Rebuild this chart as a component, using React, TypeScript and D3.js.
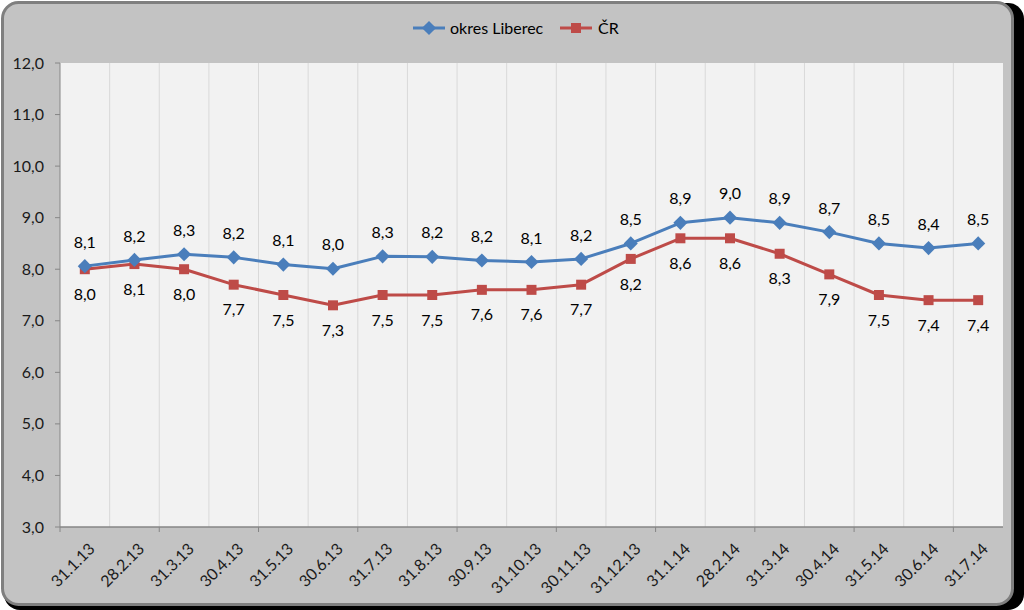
import React from 'react';
import { scaleLinear, scaleBand, line, symbol, symbolSquare, format } from 'd3';

const dates = ['31.1.13', '28.2.13', '31.3.13', '30.4.13', '31.5.13', '30.6.13', '31.7.13', '31.8.13', '30.9.13', '31.10.13',
    '30.11.13', '31.12.13', '31.1.14', '28.2.14', '31.3.14', '30.4.14', '31.5.14', '30.6.14', '31.7.14'];
const liberec = [8.06, 8.18, 8.29, 8.23, 8.09, 8.01, 8.25, 8.24, 8.17, 8.14, 8.2, 8.5, 8.9, 9.0, 8.9, 8.72, 8.5, 8.41, 8.5];
const cr = [8.0, 8.1, 8.0, 7.7, 7.5, 7.3, 7.5, 7.5, 7.6, 7.6, 7.7, 8.2, 8.6, 8.6, 8.3, 7.9, 7.5, 7.4, 7.4];
const yTicks = [3, 4, 5, 6, 7, 8, 9, 10, 11, 12];

const BLUE = '#4A7EBB';
const RED = '#BE4B48';
const FONT = 'Lato, "Open Sans", sans-serif';

const fmt = (v: number) => format('.1f')(v).replace('.', ',');

export default function App() {
    const width = 1024, height = 610;
    const plot = { left: 60, right: 1003, top: 63, bottom: 527 };

    const x = scaleBand().domain(dates).range([plot.left, plot.right]);
    const y = scaleLinear().domain([3, 12]).range([plot.bottom, plot.top]);
    const cx = (d: string) => (x(d) || 0) + x.bandwidth() / 2;

    const path = line<number>().x((d, i) => cx(dates[i])).y((d) => y(d));
    // diamond = square turned by 45deg
    const diamond = symbol().type(symbolSquare).size(100)();
    const square = symbol().type(symbolSquare).size(100)();

    return (
        <svg width={width} height={height} style={{ position: 'absolute', left: 0, top: 0, background: '#fff' }} fontFamily={FONT}>
            {/* frame + shadow */}
            <rect x={4} y={3} width={1020} height={607} rx={16} fill='#000' />
            <rect x={2.5} y={2.5} width={1010} height={602} rx={16} fill='#C3C3C3' stroke='#7F7F7F' strokeWidth={3} />

            {/* legend */}
            <g transform='translate(413,28)'>
                <line x1={0} x2={32} stroke={BLUE} strokeWidth={3} />
                <path d={diamond} transform='translate(16,0) rotate(45)' fill={BLUE} />
                <text x={37} dy='0.35em' fontSize={16} fill='#000'>okres Liberec</text>
                <line x1={147} x2={179} stroke={RED} strokeWidth={3} />
                <path d={square} transform='translate(163,0)' fill={RED} />
                <text x={185} dy='0.35em' fontSize={16} fill='#000'>ČR</text>
            </g>

            {/* plot area */}
            <rect x={plot.left} y={plot.top} width={plot.right - plot.left} height={plot.bottom - plot.top} fill='#F2F2F2' />
            {dates.slice(1).map((d) => (
                <line key={'g' + d} x1={x(d)} x2={x(d)} y1={plot.top} y2={plot.bottom} stroke='#D9D9D9' />
            ))}

            {/* y axis */}
            <line x1={plot.left} x2={plot.left} y1={plot.top} y2={plot.bottom} stroke='#868686' />
            {yTicks.map((t) => (
                <g key={'y' + t}>
                    <line x1={plot.left - 5} x2={plot.left} y1={y(t)} y2={y(t)} stroke='#868686' />
                    <text x={44} y={y(t)} dy='0.35em' textAnchor='end' fontSize={16} fill='#1a1a1a'>{fmt(t)}</text>
                </g>
            ))}

            {/* x axis */}
            <line x1={plot.left} x2={plot.right} y1={plot.bottom} y2={plot.bottom} stroke='#868686' strokeWidth={1.5} />
            {dates.map((d, i) => (i % 2 === 0 ? (
                <line key={'xt' + d} x1={i === 0 ? plot.left : x(d)} x2={i === 0 ? plot.left : x(d)}
                    y1={plot.bottom} y2={plot.bottom + 5} stroke='#868686' />
            ) : null))}
            {dates.map((d) => (
                <text key={'xl' + d} transform={`translate(${cx(d) + 7},${plot.bottom + 19}) rotate(-45)`}
                    textAnchor='end' dy='0.35em' fontSize={16} fill='#1a1a1a'>{d}</text>
            ))}

            {/* series */}
            <path d={path(cr) || ''} fill='none' stroke={RED} strokeWidth={3} strokeLinejoin='round' />
            <path d={path(liberec) || ''} fill='none' stroke={BLUE} strokeWidth={3} strokeLinejoin='round' />
            {cr.map((v, i) => (
                <path key={'cm' + i} d={square} transform={`translate(${cx(dates[i])},${y(v)})`} fill={RED} />
            ))}
            {liberec.map((v, i) => (
                <path key={'lm' + i} d={diamond} transform={`translate(${cx(dates[i])},${y(v)}) rotate(45)`} fill={BLUE} />
            ))}

            {/* data labels */}
            {liberec.map((v, i) => (
                <text key={'ll' + i} x={cx(dates[i])} y={y(v) - 24} dy='0.35em' textAnchor='middle' fontSize={16} fill='#000'>{fmt(v)}</text>
            ))}
            {cr.map((v, i) => (
                <text key={'cl' + i} x={cx(dates[i])} y={y(v) + 25} dy='0.35em' textAnchor='middle' fontSize={16} fill='#000'>{fmt(v)}</text>
            ))}
        </svg>
    );
}
